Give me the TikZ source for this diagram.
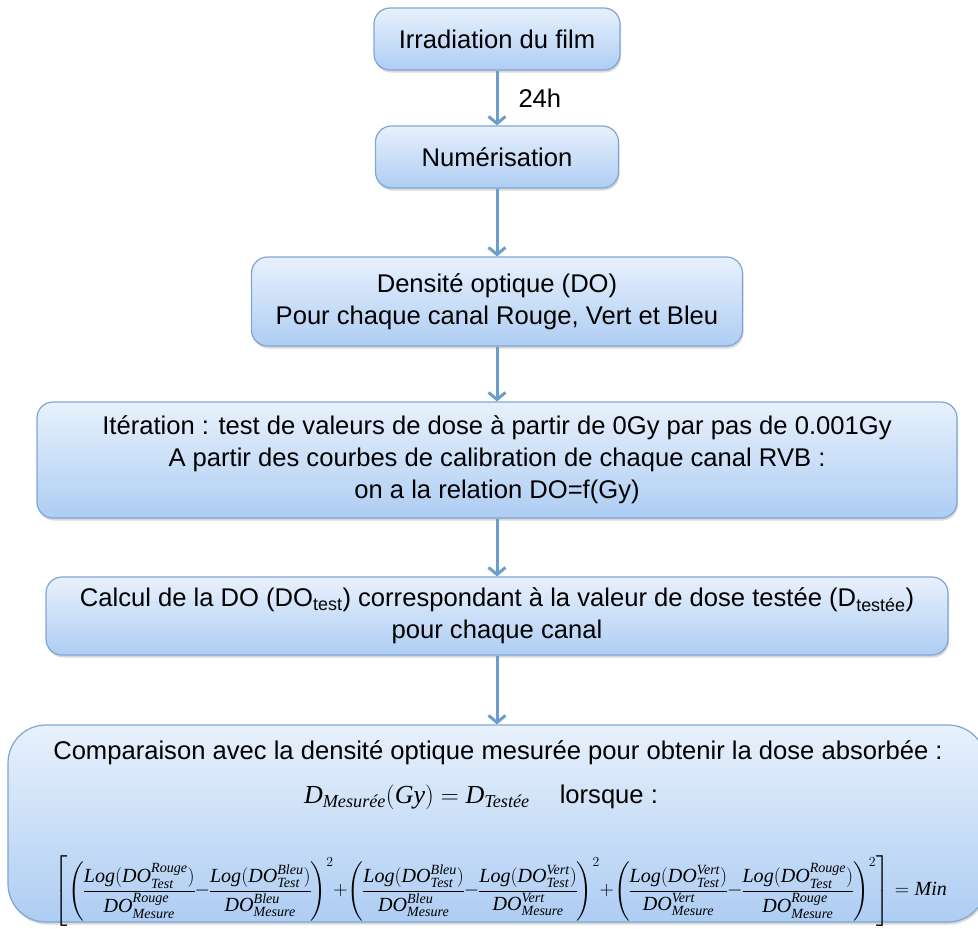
\documentclass[tikz,border=0pt]{standalone}
\usepackage{amsmath}
\usepackage{graphicx}
\usepackage{fontspec}
\setmainfont{Liberation Sans}
\newfontfamily\timesfam{Liberation Serif}
\usetikzlibrary{arrows.meta,positioning,shadows}

\definecolor{boxtop}{RGB}{232,241,252}
\definecolor{boxbottom}{RGB}{174,205,243}
\definecolor{boxline}{RGB}{128,166,210}
\definecolor{flowarrow}{RGB}{108,157,205}

\newcommand{\tmi}[1]{\text{\timesfam\itshape #1}}

\begin{document}
\begin{tikzpicture}[x=1pt,y=-1pt]
\tikzset{
  procbox/.style={rectangle,rounded corners=16pt,draw=boxline,line width=1.2pt,
    top color=boxtop,bottom color=boxbottom,
    drop shadow={opacity=0.3,shadow xshift=1pt,shadow yshift=-2.5pt},
    align=center,inner sep=0pt,font=\fontsize{25.6}{32}\selectfont},
  flow/.style={draw=flowarrow,line width=3pt,-{Straight Barb[length=7pt,width=17pt,line width=3pt]}},
  boxtext/.style={inner sep=0pt,font=\fontsize{25.6}{30}\selectfont}
}
\useasboundingbox (0,0) rectangle (978,929);

% etapes du protocole
\node[procbox,minimum width=246pt,minimum height=62pt] (n_irr) at (497,39) {Irradiation du film};
\node[procbox,minimum width=243pt,minimum height=62pt] (n_num) at (497,157) {Numérisation};
\node[procbox,minimum width=491pt,minimum height=89pt] (n_do) at (497,301.5)
  {Densité optique (DO)\\Pour chaque canal Rouge, Vert et Bleu};
\node[procbox,minimum width=920pt,minimum height=116pt] (n_iter) at (497,460)
  {Itération : test de valeurs de dose à partir de 0Gy par pas de 0.001Gy\\
   A partir des courbes de calibration de chaque canal RVB :\\
   on a la relation DO=f(Gy)};
\node[procbox,minimum width=902pt,minimum height=78pt] (n_calc) at (497,616)
  {Calcul de la DO (DO$_{\text{test}}$) correspondant à la valeur de dose testée (D$_{\text{testée}}$)\\
   pour chaque canal};
\node[procbox,rounded corners=38pt,minimum width=978pt,minimum height=197pt] (n_comp) at (497,823.5) {};

% texte de la comparaison
\node[boxtext] (t_cmp1) at (498,753)
  {Comparaison avec la densité optique mesurée pour obtenir la dose absorbée :};
\node[boxtext,font=\fontsize{26}{30}\selectfont] (t_cmp2) at (481,797)
  {$\tmi{D}_{\tmi{Mesurée}}(\tmi{Gy}) = \tmi{D}_{\tmi{Testée}}$\hspace{30pt}{\fontsize{25.6}{30}\selectfont lorsque :}};
\node[boxtext,font=\fontsize{21}{26}\selectfont] (t_cmp3) at (501,891)
  {\medmuskip=0mu\nulldelimiterspace=0pt
   \resizebox{892pt}{!}{$\displaystyle\left[\left(\frac{\tmi{Log}(\tmi{DO}^{\tmi{Rouge}}_{\tmi{Test}})}{\tmi{DO}^{\tmi{Rouge}}_{\tmi{Mesure}}}
   -\frac{\tmi{Log}(\tmi{DO}^{\tmi{Bleu}}_{\tmi{Test}})}{\tmi{DO}^{\tmi{Bleu}}_{\tmi{Mesure}}}\right)^{2}
   +\left(\frac{\tmi{Log}(\tmi{DO}^{\tmi{Bleu}}_{\tmi{Test}})}{\tmi{DO}^{\tmi{Bleu}}_{\tmi{Mesure}}}
   -\frac{\tmi{Log}(\tmi{DO}^{\tmi{Vert}}_{\tmi{Test}})}{\tmi{DO}^{\tmi{Vert}}_{\tmi{Mesure}}}\right)^{2}
   +\left(\frac{\tmi{Log}(\tmi{DO}^{\tmi{Vert}}_{\tmi{Test}})}{\tmi{DO}^{\tmi{Vert}}_{\tmi{Mesure}}}
   -\frac{\tmi{Log}(\tmi{DO}^{\tmi{Rouge}}_{\tmi{Test}})}{\tmi{DO}^{\tmi{Rouge}}_{\tmi{Mesure}}}\right)^{2}\right]
   = \tmi{Min}$}};

% fleches
\draw[flow] (n_irr) -- node[right=20pt,boxtext] {24h} (n_num);
\draw[flow] (n_num) -- (n_do);
\draw[flow] (n_do) -- (n_iter);
\draw[flow] (n_iter) -- (n_calc);
\draw[flow] (n_calc) -- (n_comp);
\end{tikzpicture}
\end{document}
